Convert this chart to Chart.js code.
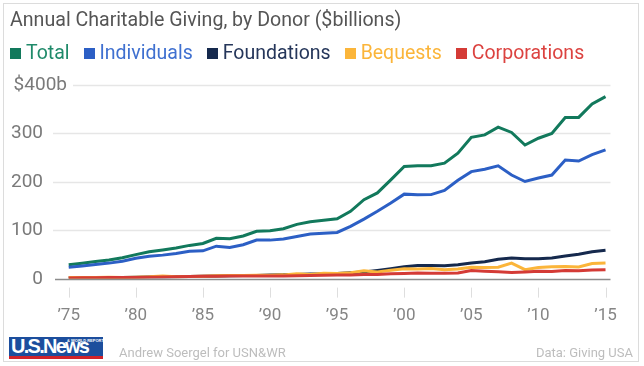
<!DOCTYPE html>
<html><head><meta charset="utf-8">
<script src="https://cdn.jsdelivr.net/npm/chart.js@4.4.1/dist/chart.umd.min.js"></script>
<style>
html,body{margin:0;padding:0;background:#fff;width:644px;height:366px;overflow:hidden;font-family:Roboto,"Noto Sans",sans-serif}
#card{position:absolute;left:3px;top:3px;width:636px;height:359px;border:1px solid #dcdcdc;box-sizing:border-box}
#title{position:absolute;left:10px;top:8px;font-size:19.6px;color:#555;white-space:nowrap}
#legend{position:absolute;left:10px;top:41px;font-size:19.5px;white-space:nowrap}
#legend span.item{margin-right:14px}
#legend span.sw{display:inline-block;width:11px;height:11px;margin-right:5px;vertical-align:0px}
canvas{position:absolute;left:0;top:0}
#logo{position:absolute;left:9px;top:337px;width:94px;height:23px}
#logo .b{position:absolute;left:0;top:0;width:94px;height:19px;background:#1c4e9d;overflow:hidden}
#logo .r{position:absolute;left:0;top:19px;width:94px;height:3px;background:#d1232a}
#logo .t{position:absolute;left:2px;top:-3px;color:#fff;font-family:"Liberation Sans",Arial,sans-serif;font-weight:bold;font-size:21px;letter-spacing:-1.8px;transform:scaleX(0.95);transform-origin:0 0}
#logo .s{position:absolute;left:58px;top:1px;color:#fff;font-family:"Liberation Sans",Arial,sans-serif;font-weight:bold;font-size:4px;white-space:nowrap}
#credit{position:absolute;left:119px;top:345px;font-size:13px;color:#bdbdbd;white-space:nowrap}
#source{position:absolute;right:11px;top:345px;font-size:13px;color:#bdbdbd;white-space:nowrap}
</style></head>
<body>
<div id="card"></div>
<canvas id="c" width="644" height="366"></canvas>
<div id="title">Annual Charitable Giving, by Donor ($billions)</div>
<div id="legend"></div>
<div id="logo"><div class="b"><span class="t">U.S.News</span><span class="s">&amp; WORLD REPORT</span></div><div class="r"></div></div>
<div id="credit">Andrew Soergel for USN&amp;WR</div>
<div id="source">Data: Giving USA</div>
<script>
const years = [1975,1976,1977,1978,1979,1980,1981,1982,1983,1984,1985,1986,1987,1988,1989,1990,1991,1992,1993,1994,1995,1996,1997,1998,1999,2000,2001,2002,2003,2004,2005,2006,2007,2008,2009,2010,2011,2012,2013,2014,2015];
const seriesNames = ["Total","Individuals","Foundations","Bequests","Corporations"];
const total = [28.6,31.9,35.2,38.6,43.1,49.5,55.3,59.1,63.2,68.6,72.5,83.3,82.2,88.0,97.6,99.0,103.0,112.0,117.5,120.5,123.7,139.0,163.0,177.0,204.0,231.5,233.0,233.0,238.5,259.0,292.0,297.0,313.0,302.0,276.0,290.0,300.0,333.0,333.0,361.0,376.0];
const individuals = [23.5,26.0,29.0,32.0,36.0,42.0,46.0,48.5,52.0,56.5,57.4,67.0,64.5,69.9,79.5,79.5,82.0,87.0,92.0,93.5,95.4,108.0,123.0,139.0,156.0,174.5,173.0,173.5,182.0,203.0,221.0,226.0,233.0,214.0,200.6,208.0,214.0,245.0,243.0,256.0,266.0];
const foundations = [1.7,1.9,2.0,2.2,2.2,2.8,3.1,3.2,3.6,4.4,4.9,5.4,5.9,6.2,6.6,7.2,7.7,8.6,9.5,9.7,10.6,12.0,13.9,17.0,20.5,24.6,27.2,27.0,26.8,28.4,32.4,34.9,40.0,42.6,41.1,41.0,42.6,46.9,50.3,55.3,58.4];
const bequests = [2.2,2.3,2.1,2.6,2.2,2.9,3.6,5.2,3.9,4.2,4.8,5.7,6.6,6.6,6.8,6.8,7.7,9.8,8.5,11.1,10.4,12.0,16.1,13.9,17.4,20.3,19.8,20.9,18.2,19.8,23.5,22.9,23.5,32.0,18.5,23.0,24.6,25.0,24.0,31.0,32.0];
const corporations = [1.2,1.5,1.8,2.1,2.3,2.3,2.6,3.1,3.6,4.1,4.6,5.0,5.2,5.3,5.5,5.5,5.6,6.0,6.5,7.0,7.4,7.5,8.6,8.5,10.2,10.7,11.7,10.8,11.1,11.4,16.6,15.2,14.2,12.4,13.8,15.3,14.6,16.8,16.2,17.7,18.5];
const xTickYears = [1975,1980,1985,1990,1995,2000,2005,2010,2015];
const yTicks = [0,100,200,300,400];
const yTickLabels = ["0","100","200","300","$400b"];
const lineColors = ["#12795c","#2c5fc5","#15294d","#fbb53a","#d43b36"];
const legendTextColors = ["#1f8a6a","#3f70d0","#25365a","#fbb53a","#dc4340"];

const allSeries = [total,individuals,foundations,bequests,corporations];

const lg = document.getElementById('legend');
seriesNames.forEach((n,i)=>{
  const s = document.createElement('span'); s.className='item';
  s.innerHTML = '<span class="sw" style="background:'+lineColors[i]+'"></span><span style="color:'+legendTextColors[i]+'">'+n+'</span>';
  lg.appendChild(s);
});

const decor = {
  id:'decor',
  beforeDatasetsDraw(chart){
    const ctx = chart.ctx, ya = chart.scales.y, xa = chart.scales.x, ca = chart.chartArea;
    ctx.save();
    ctx.font = '19px Roboto';
    ctx.textBaseline = 'middle';
    yTicks.forEach((v,i)=>{
      const py = Math.round(ya.getPixelForValue(v))+0.5;
      const lab = yTickLabels[i];
      let x0;
      ctx.fillStyle = '#7a7a7a';
      ctx.textAlign='right';
      if (lab.length > 3) { ctx.fillText(lab, 67, py); x0 = 73; }
      else { ctx.fillText(lab, 43, py); x0 = (v===0)?55:53; }
      ctx.beginPath();
      ctx.strokeStyle = v===0 ? '#8c8c8c' : '#e6e6e6';
      ctx.lineWidth = 1.5;
      ctx.moveTo(x0, py); ctx.lineTo(ca.right, py); ctx.stroke();
    });
    ctx.strokeStyle = '#dedede'; ctx.lineWidth = 1;
    xTickYears.forEach(v=>{
      const px = Math.round(xa.getPixelForValue(v))+0.5;
      ctx.beginPath(); ctx.moveTo(px, ca.bottom+9); ctx.lineTo(px, ca.bottom+19); ctx.stroke();
    });
    ctx.restore();
  }
};

new Chart(document.getElementById('c'), {
  type:'line',
  data:{
    datasets: seriesNames.map((n,i)=>({
      label:n,
      data: years.map((yr,j)=>({x:yr,y:allSeries[i][j]})),
      borderColor: lineColors[i],
      backgroundColor: lineColors[i],
      borderWidth: 3,
      pointRadius: 0,
      tension: 0,
      fill:false
    })).reverse()
  },
  options:{
    responsive:false,
    animation:false,
    layout:{padding:{left:53,right:25,top:85,bottom:13}},
    plugins:{legend:{display:false},tooltip:{enabled:false},title:{display:false}},
    scales:{
      x:{type:'linear',min:1973.83,max:2015.37,
        afterBuildTicks(s){ s.ticks = xTickYears.map(v=>({value:v})); },
        grid:{display:false,drawTicks:false}, border:{display:false},
        ticks:{padding:27,color:'#858585',font:{family:'Roboto',size:17},maxRotation:0,autoSkip:false,
          callback:(v)=>'\u2019'+String(v).slice(2)}
      },
      y:{display:false,min:0,max:400}
    }
  },
  plugins:[decor]
});
</script>
</body></html>
